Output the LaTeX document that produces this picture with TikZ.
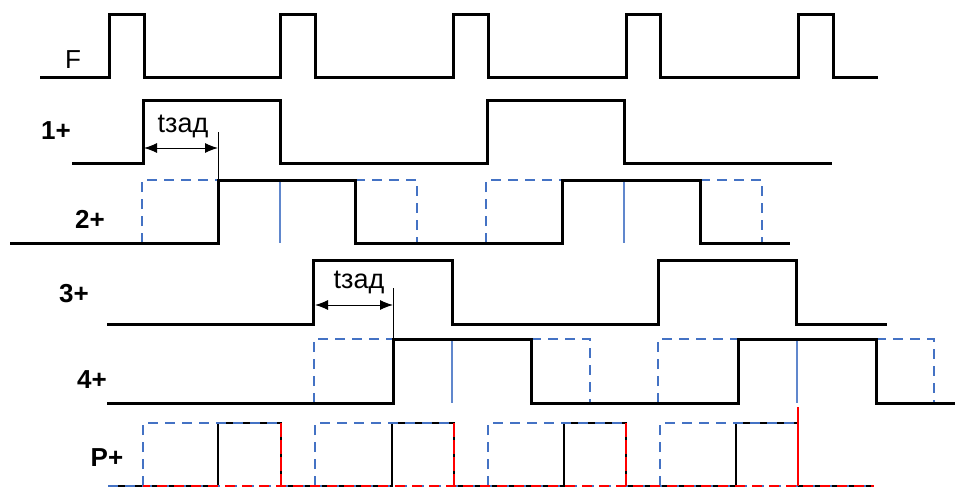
\documentclass[tikz,border=0pt]{standalone}
\usepackage{fontspec}
\setmainfont{Liberation Sans}
\usetikzlibrary{arrows.meta}
\definecolor{sigblue}{RGB}{68,114,196}
\begin{document}
\begin{tikzpicture}[x=1pt,y=-1pt,
  sig/.style={line width=3pt, black, line join=miter},
  thinsig/.style={line width=1.3pt, black},
  bluedash/.style={line width=1.5pt, sigblue, dash pattern=on 10pt off 7pt},
  bluev/.style={line width=1.3pt, sigblue!85},
  reddash/.style={line width=1.7pt, red, dash pattern=on 10pt off 7pt},
  redv/.style={line width=2pt, red, dash pattern=on 14pt off 3pt},
  lbl/.style={font=\fontsize{26}{26}\selectfont\bfseries, inner sep=0pt},
  flbl/.style={font=\fontsize{26}{26}\selectfont, inner sep=0pt},
  tlbl/.style={font=\fontsize{27}{27}\selectfont, inner sep=0pt},
  dim/.style={line width=1pt, black, {Latex[length=13pt,width=10pt]}-{Latex[length=13pt,width=10pt]}},
  guide/.style={line width=1pt, black}
]
\useasboundingbox (0,0) rectangle (956,488);

% labels
\node[flbl] (lF) at (73,60) {F};
\node[lbl] (l1) at (56,131) {1+};
\node[lbl] (l2) at (90,219) {2+};
\node[lbl] (l3) at (74,294) {3+};
\node[lbl] (l4) at (92,380) {4+};
\node[lbl] (lP) at (107,458) {P+};

% F
\draw[sig] (40,77) -- (109,77) -- (109,14) -- (144,14) -- (144,77)
  -- (280,77) -- (280,14) -- (315,14) -- (315,77)
  -- (453,77) -- (453,14) -- (488,14) -- (488,77)
  -- (626,77) -- (626,14) -- (660,14) -- (660,77)
  -- (798,77) -- (798,14) -- (833,14) -- (833,77) -- (878,77);

% 1+
\draw[sig] (72,163) -- (143,163) -- (143,100) -- (280,100) -- (280,163)
  -- (487,163) -- (487,100) -- (624,100) -- (624,163) -- (832,163);

% 2+ blue
\draw[bluedash] (142,243) -- (142,180) -- (218,180);
\draw[bluedash] (355,180) -- (417,180) -- (417,243);
\draw[bluev] (280,180) -- (280,243);
\draw[bluedash] (486,243) -- (486,180) -- (562,180);
\draw[bluedash] (700,180) -- (762,180) -- (762,243);
\draw[bluev] (624,180) -- (624,243);
% 2+ black
\draw[sig] (10,243) -- (218,243) -- (218,180) -- (355,180) -- (355,243)
  -- (562,243) -- (562,180) -- (700,180) -- (700,243) -- (790,243);

% 3+
\draw[sig] (107,324) -- (313,324) -- (313,260) -- (452,260) -- (452,324)
  -- (658,324) -- (658,260) -- (796,260) -- (796,324) -- (887,324);

% 4+ blue
\draw[bluedash] (314,403) -- (314,339) -- (393,339);
\draw[bluev] (452,339) -- (452,403);
\draw[bluedash] (531,339) -- (590,339) -- (590,403);
\draw[bluedash] (658,403) -- (658,339) -- (738,339);
\draw[bluev] (797,339) -- (797,403);
\draw[bluedash] (876,339) -- (934,339) -- (934,403);
% 4+ black
\draw[sig] (107,403) -- (393,403) -- (393,339) -- (531,339) -- (531,403)
  -- (738,403) -- (738,339) -- (876,339) -- (876,403) -- (955,403);

% P+
\draw[thinsig] (108,486) -- (218,486) -- (218,423) -- (281,423) -- (281,486)
  -- (392,486) -- (392,423) -- (454,423) -- (454,486)
  -- (564,486) -- (564,423) -- (626,423) -- (626,486)
  -- (736,486) -- (736,423) -- (798,423) -- (798,486) -- (874,486);
\draw[bluedash] (108,486) -- (874,486);
\draw[bluedash] (143,486) -- (143,423) -- (281,423) -- (281,486);
\draw[bluedash] (315,486) -- (315,423) -- (454,423) -- (454,486);
\draw[bluedash] (488,486) -- (488,423) -- (626,423) -- (626,486);
\draw[bluedash] (660,486) -- (660,423) -- (798,423);
\draw[reddash, dash phase=3pt] (143,486) -- (874,486);
\draw[redv] (281,423) -- (281,486);
\draw[redv] (454,423) -- (454,486);
\draw[redv] (626,423) -- (626,486);
\draw[line width=2pt, red] (798,407) -- (798,486);

% t_zad 1
\coordinate (a1l) at (144,148);
\coordinate (a1r) at (218,148);
\coordinate (g1t) at (218,132);
\coordinate (g1b) at (218,180);
\draw[guide] (g1t) -- (g1b);
\draw[dim] (a1l) -- (a1r);
\node[tlbl] (t1) at (183,126) {tзад};

% t_zad 2
\coordinate (a2l) at (315,305);
\coordinate (a2r) at (393,305);
\coordinate (g2t) at (393,288);
\coordinate (g2b) at (393,339);
\draw[guide] (g2t) -- (g2b);
\draw[dim] (a2l) -- (a2r);
\node[tlbl] (t2) at (359,282) {tзад};
\end{tikzpicture}
\end{document}
